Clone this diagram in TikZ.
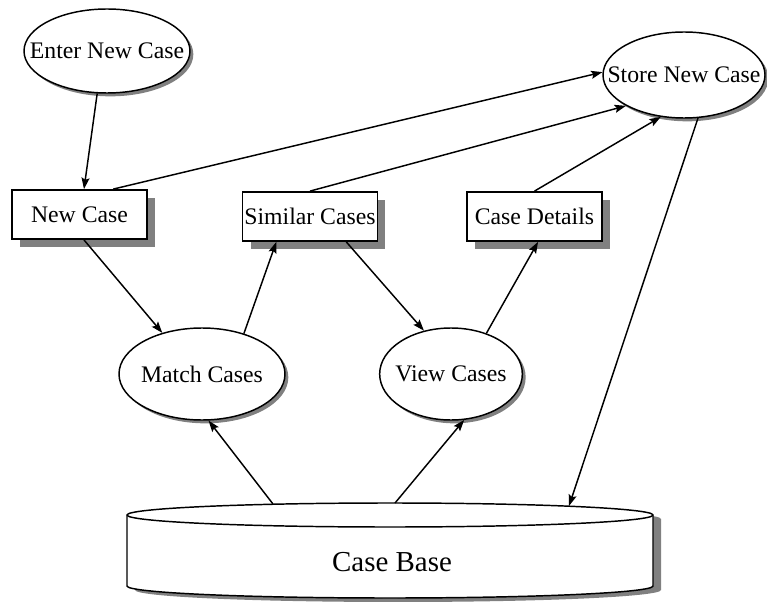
\documentclass[tikz,border=0pt]{standalone}
\usepackage{fontspec}
\setmainfont{Liberation Serif}
\usetikzlibrary{arrows.meta,shapes.geometric,shadows,positioning}

\begin{document}
\begin{tikzpicture}[x=0.75pt,y=-0.75pt,font=\fontsize{17.8}{20}\selectfont,
  proc/.style={ellipse,draw,line width=1.1pt,fill=white,inner sep=0pt,
    drop shadow={shadow xshift=2.5pt,shadow yshift=-2.5pt,fill=gray,opacity=1}},
  data/.style={rectangle,draw,line width=1.1pt,fill=white,inner xsep=1pt,minimum width=101pt,minimum height=37pt,
    drop shadow={shadow xshift=6pt,shadow yshift=-6pt,fill=gray,opacity=1}},
  flow/.style={line width=1.1pt,-{Stealth[length=8.5pt,width=6pt,inset=1.5pt]}}]
\useasboundingbox (0,0) rectangle (767,602);
% case base
\fill[gray] (135,519) -- (135,590) arc[start angle=180,end angle=0,x radius=263,y radius=12] -- (661,519) arc[start angle=0,end angle=-180,x radius=263,y radius=12] -- cycle;
\draw[line width=1.1pt,fill=white] (127,515) -- (127,586) arc[start angle=180,end angle=0,x radius=263,y radius=12] -- (653,515) arc[start angle=0,end angle=-180,x radius=263,y radius=12] -- cycle;
\draw[line width=1.1pt] (127,515) arc[start angle=180,end angle=0,x radius=263,y radius=12];
\node[font=\fontsize{21.7}{24}\selectfont] (casebase) at (392,562) {Case Base};
\coordinate (cbm) at (273,504);
\coordinate (cbv) at (395,503);
\coordinate (cbs) at (569,506);
% processes and data
\node[proc,minimum width=124.5pt,minimum height=63pt,label=center:Enter New Case] (enter) at (107,51) {};
\node[proc,minimum width=121.5pt,minimum height=64.5pt,label=center:Store New Case] (store) at (684,75) {};
\node[data] (newcase) at (79.5,214.5) {New Case};
\node[data] (similar) at (310,216.5) {Similar Cases};
\node[data] (details) at (534.5,216.5) {Case Details};
\node[proc,minimum width=124.5pt,minimum height=69pt,label=center:Match Cases] (match) at (202,374) {};
\node[proc,minimum width=107pt,minimum height=69pt,label=center:View Cases] (view) at (451,374) {};
% flows
\draw[flow] (enter.-103) -- (newcase.80);
\draw[flow] (newcase.37) -- (store.178);
\draw[flow] (similar.north) -- (store.208);
\draw[flow] (details.north) -- (store.241);
\draw[flow] (store.288) -- (cbs);
\draw[flow] (newcase.-80) -- (match.134);
\draw[flow] (match.44) -- (similar.217);
\draw[flow] (similar.-35) -- (view.122);
\draw[flow] (view.49) -- (details.-82);
\draw[flow] (cbm) -- (match.-82);
\draw[flow] (cbv) -- (view.-74);
\end{tikzpicture}
\end{document}
